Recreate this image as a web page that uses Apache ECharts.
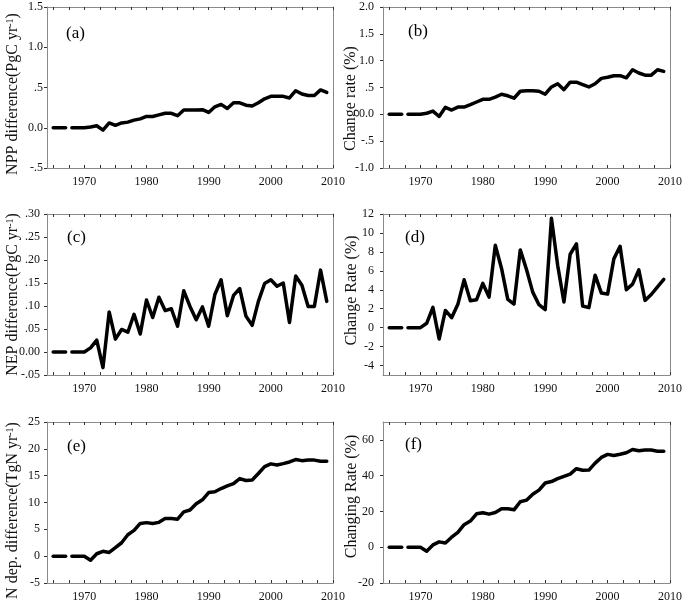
<!DOCTYPE html>
<html><head><meta charset="utf-8">
<script src="https://cdn.jsdelivr.net/npm/echarts@6/dist/echarts.min.js"></script>
<style>html,body{margin:0;padding:0;background:#fff}#c{width:685px;height:605px}</style>
</head><body><div id="c"></div><script>
// ---------- data ----------
var years = [1965,1966,1967,1968,1969,1970,1971,1972,1973,1974,1975,1976,1977,1978,1979,1980,
  1981,1982,1983,1984,1985,1986,1987,1988,1989,1990,1991,1992,1993,1994,1995,1996,1997,1998,1999,
  2000,2001,2002,2003,2004,2005,2006,2007,2008,2009];
var nppDiff = [0,0,0,0,0,0,0.01,0.025,-0.03,0.06,0.03,0.06,0.07,0.095,0.11,0.14,0.14,0.16,0.18,0.18,
  0.15,0.22,0.22,0.22,0.225,0.19,0.26,0.29,0.24,0.31,0.31,0.28,0.27,0.31,0.36,0.39,0.39,0.39,0.37,
  0.46,0.42,0.40,0.40,0.47,0.44];
var nppRate = [0,0,0,0,0,0,0.02,0.06,-0.04,0.13,0.08,0.135,0.135,0.18,0.23,0.28,0.28,0.32,0.375,0.345,
  0.30,0.43,0.44,0.44,0.43,0.375,0.51,0.57,0.46,0.60,0.60,0.555,0.51,0.57,0.67,0.69,0.72,0.72,0.68,
  0.83,0.77,0.73,0.73,0.83,0.80];
var nepDiff = [0,0,0,0,0,0,0.009,0.026,-0.034,0.087,0.028,0.049,0.043,0.082,0.039,0.113,0.075,0.119,
  0.090,0.094,0.056,0.133,0.099,0.070,0.098,0.056,0.125,0.157,0.079,0.123,0.138,0.078,0.058,0.110,
  0.149,0.157,0.143,0.150,0.064,0.165,0.145,0.099,0.099,0.178,0.110];
var nepRate = [0,0,0,0,0,0,0.46,2.14,-1.2,1.82,1.05,2.46,5.05,2.84,2.95,4.67,3.23,8.70,6.25,2.98,2.49,
  8.21,6.14,3.75,2.42,1.89,11.54,6.56,2.70,7.75,8.84,2.28,2.11,5.54,3.65,3.54,7.26,8.60,4.0,4.6,6.1,
  2.88,3.5,4.3,5.1];
var ndepDiff = [0,0,0,0,0,0,-0.75,0.45,0.9,0.7,1.6,2.5,4.0,4.8,6.1,6.25,6.1,6.3,7.0,7.0,6.9,8.25,8.6,
  9.75,10.5,11.85,12.0,12.6,13.1,13.5,14.45,14.1,14.2,15.4,16.7,17.2,17.0,17.25,17.55,18.0,17.8,17.9,
  17.9,17.7,17.7];
var ndepRate = [0,0,0,0,0,0,-2.2,1.3,3.0,2.4,5.6,8.3,12.6,14.6,18.7,19.3,18.5,19.4,21.5,21.5,20.9,25.4,
  26.3,29.6,31.9,35.9,36.7,38.3,39.6,40.9,43.9,43.0,43.1,47.0,50.2,51.9,51.3,52.0,52.8,54.6,53.9,54.3,
  54.3,53.7,53.7];
// first segment ends at 1967, second starts at 1968
var segBreak = 3;

var xLabelValues = [1970,1980,1990,2000,2010];
var xTickValues = [1965,1967.5,1970,1972.5,1975,1977.5,1980,1982.5,1985,1987.5,1990,1992.5,1995,
  1997.5,2000,2002.5,2005,2007.5,2010];
var yTicksA = [-0.5,0,0.5,1.0,1.5];
var yTicksB = [-1.0,-0.5,0,0.5,1.0,1.5,2.0];
var yTicksC = [-0.05,0,0.05,0.10,0.15,0.20,0.25,0.30];
var yTicksD = [-4,-2,0,2,4,6,8,10,12];
var yTicksE = [-5,0,5,10,15,20,25];
var yTicksF = [-20,0,20,40,60];

var panelLabels = ['(a)','(b)','(c)','(d)','(e)','(f)'];
var yNames = [
  '{n|NPP difference(PgC yr}{s|-1}{n|)}',
  '{n|Change rate (%)}',
  '{n|NEP difference(PgC yr}{s|-1}{n|)}',
  '{n|Change Rate (%)}',
  '{n|N dep. difference(TgN yr}{s|-1}{n|)}',
  '{n|Changing Rate (%)}'
];

// ---------- layout / style ----------
var FONT = '"Liberation Serif", "Times New Roman", serif';
function fmt1(v){ if (v === 0) return '0.0'; var s = Math.abs(v).toFixed(1); if (Math.abs(v) < 1) s = s.replace(/^0/, ''); return (v < 0 ? '-' : '') + s; }
function fmt2(v){ if (Math.abs(v) < 1e-9) return '0.00'; var s = Math.abs(v).toFixed(2); s = s.replace(/^0/, ''); return (v < 0 ? '-' : '') + s; }
function fmt0(v){ return String(Math.round(v)); }

var panels = [
  {data: nppDiff, grid:{left:47, top:7, width:286, height:161}, min:-0.5, max:1.5, ticks:yTicksA, fmt:fmt1, margin:4, nameGap:26, namePad:[0,13,0,0], lab:[66,34]},
  {data: nppRate, grid:{left:383, top:7, width:289, height:161}, min:-1, max:2, ticks:yTicksB, fmt:fmt1, margin:9, nameGap:24, namePad:[0,22,0,0], lab:[408,32]},
  {data: nepDiff, grid:{left:47, top:214, width:286, height:161}, min:-0.05, max:0.30, ticks:yTicksC, fmt:fmt2, margin:7, nameGap:26, namePad:[0,0,0,0], lab:[67,238]},
  {data: nepRate, grid:{left:383, top:214, width:289, height:161}, min:-5, max:12, ticks:yTicksD, fmt:fmt0, margin:9, nameGap:23, namePad:[0,0,0,8], lab:[405,238]},
  {data: ndepDiff, grid:{left:47, top:422, width:286, height:161}, min:-5, max:25, ticks:yTicksE, fmt:fmt0, margin:7, nameGap:26, namePad:[0,16,0,0], lab:[67,447]},
  {data: ndepRate, grid:{left:383, top:422, width:289, height:161}, min:-20, max:70, ticks:yTicksF, fmt:fmt0, margin:9, nameGap:23, namePad:[0,0,0,12], lab:[405,445]}
];

var AXIS_GRAY = '#8a8a8a', TICK = '#333', TXT = '#111';
var option = {backgroundColor:'#fff', animation:false, grid:[], xAxis:[], yAxis:[], series:[], graphic:[]};

panels.forEach(function(p, i){
  option.grid.push(Object.assign({containLabel:false}, p.grid));
  var xBase = {type:'value', gridIndex:i, min:1964, max:2010, splitLine:{show:false},
    axisLine:{show:true, onZero:false, lineStyle:{color:AXIS_GRAY, width:1}}};
  option.xAxis.push(Object.assign({}, xBase, {position:'bottom',
    axisTick:{show:true, inside:true, length:3, lineStyle:{color:TICK}, customValues:xTickValues},
    axisLabel:{show:true, customValues:xLabelValues, margin:8, fontFamily:FONT, fontSize:12, color:TXT,
      formatter:function(v){return String(v);}}}));
  option.xAxis.push(Object.assign({}, xBase, {position:'top',
    axisTick:{show:true, inside:true, length:3, lineStyle:{color:TICK}, customValues:xTickValues},
    axisLabel:{show:false}}));
  var yBase = {type:'value', gridIndex:i, min:p.min, max:p.max, splitLine:{show:false},
    axisLine:{show:true, onZero:false, lineStyle:{color:AXIS_GRAY, width:1}}};
  option.yAxis.push(Object.assign({}, yBase, {position:'left',
    axisTick:{show:true, inside:false, length:3, lineStyle:{color:TICK}, customValues:p.ticks},
    axisLabel:{show:true, customValues:p.ticks, margin:p.margin, fontFamily:FONT, fontSize:12, color:TXT, formatter:p.fmt},
    name: yNames[i], nameLocation:'middle', nameGap:p.nameGap, nameMoveOverlap:false,
    nameTextStyle:{fontFamily:FONT, fontSize:16, color:TXT, padding:p.namePad,
      rich:{n:{fontFamily:FONT, fontSize:16, color:TXT}, s:{fontFamily:FONT, fontSize:10, color:TXT, verticalAlign:'top'}}}}));
  option.yAxis.push(Object.assign({}, yBase, {position:'right', axisTick:{show:false}, axisLabel:{show:false}}));
  [years.slice(0, segBreak), years.slice(segBreak)].forEach(function(ys, k){
    var vals = k === 0 ? p.data.slice(0, segBreak) : p.data.slice(segBreak);
    option.series.push({type:'line', xAxisIndex:2*i, yAxisIndex:2*i, symbol:'none', silent:true,
      lineStyle:{color:'#000', width:3.5, cap:'round', join:'round'},
      data: ys.map(function(y, j){ return [y, vals[j]]; })});
  });
  option.graphic.push({type:'text', x:p.lab[0], y:p.lab[1],
    style:{text:panelLabels[i], fontFamily:FONT, fontSize:17, fill:'#000', align:'left', verticalAlign:'middle'}});
});

var chart = echarts.init(document.getElementById('c'), null, {renderer:'canvas'});
chart.setOption(option);
</script></body></html>
